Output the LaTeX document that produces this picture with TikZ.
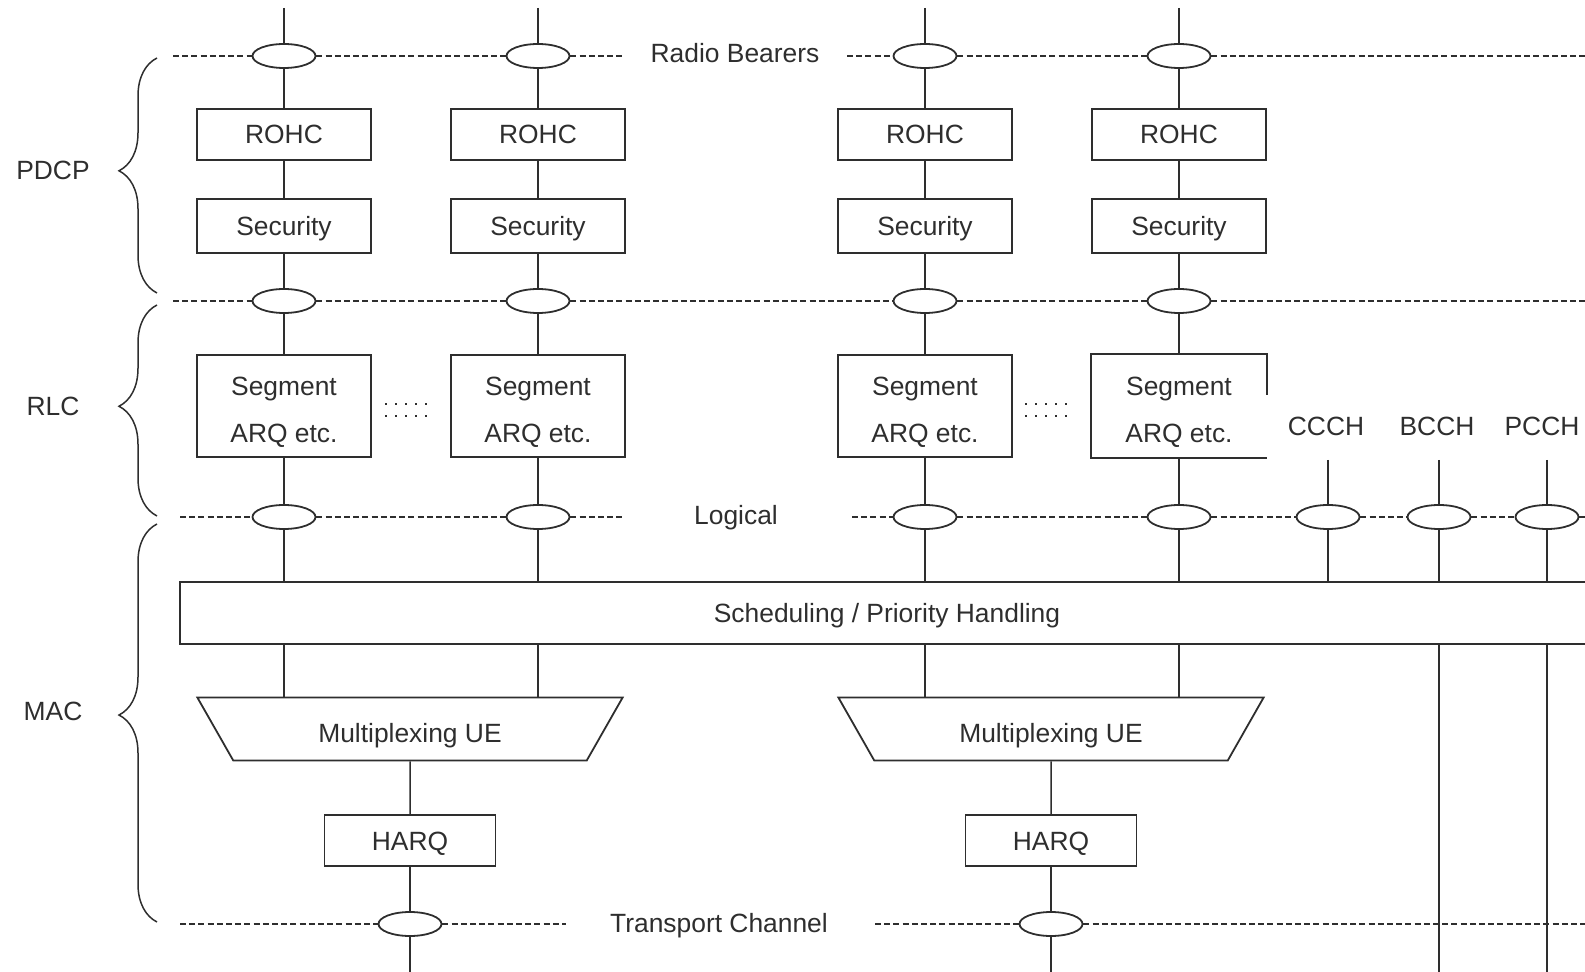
\documentclass[tikz,border=0pt]{standalone}
\usepackage{fontspec}
\setmainfont{Liberation Sans}
\usetikzlibrary{shapes.geometric,decorations.pathreplacing}
\definecolor{ln}{HTML}{2E2E2E}
\newcommand\fs{\fontsize{13.2pt}{16pt}\selectfont}
\tikzset{
 box/.style={draw=ln, line width=0.9pt, minimum width=87pt, minimum height=25.5pt, inner sep=0pt, font=\fs, text=ln, text height=9.5pt, text depth=0pt},
 ell/.style={draw=ln, ellipse, line width=0.9pt, minimum width=31.5pt, minimum height=12pt, inner sep=0pt},
 conn/.style={draw=ln, line width=0.75pt},
 dsh/.style={draw=ln, line width=0.8pt, dash pattern=on 3pt off 1.6pt},
 lbl/.style={font=\fs, text=ln, inner sep=0pt, text height=9.5pt, text depth=0pt},
 blbl/.style={font=\fs, text=ln, inner sep=0pt, anchor=base},
 brc/.style={draw=ln, line width=0.75pt, decorate, decoration={brace, amplitude=19pt, aspect=0.52}},
 dotl/.style={draw=ln, line width=1.3pt, dash pattern=on 1.2pt off 3.8pt},
 mux/.style={draw=ln, line width=0.9pt, trapezium, trapezium stretches=true, shape border rotate=180,
   trapezium left angle=55.4, trapezium right angle=55.4, minimum width=213pt, minimum height=31.5pt,
   inner sep=0pt, font=\fs, text=ln, text height=13.5pt, text depth=0pt},
}
\begin{document}
\begin{tikzpicture}[x=0.5pt,y=-0.5pt]
\useasboundingbox (0,0) rectangle (1585,972);
\clip (0,0) rectangle (1585,972);

% layer labels and braces
\node[lbl] (pdcp) at (53,170) {PDCP};
\node[lbl] (rlc) at (53,406) {RLC};
\node[lbl] (mac) at (53,711) {MAC};
\draw[brc] (157,293) -- (157,58);
\draw[brc] (157,516) -- (157,305);
\draw[brc] (157,922) -- (157,524);

% channel labels
\node[lbl] (rbtxt) at (735,53) {Radio Bearers};
\node[lbl] (lgtxt) at (736,515) {Logical};
\node[lbl] (trtxt) at (719,923) {Transport Channel};
\node[lbl] (ccch) at (1326,426) {CCCH};
\node[lbl] (bcch) at (1437,426) {BCCH};
\node[lbl] (pcch) at (1542,426) {PCCH};

% columns
\foreach \i/\x in {1/284,2/538,3/925,4/1179}{
  \coordinate (top\i) at (\x,8);
  \node[ell] (rb\i) at (\x,56) {};
  \node[box] (rohc\i) at (\x,134.5) {ROHC};
  \node[box, minimum height=27pt] (sec\i) at (\x,226) {Security};
  \node[ell] (r\i) at (\x,301) {};
  \node[ell] (l\i) at (\x,517) {};
}
\foreach \i/\x in {1/284,2/538,3/925}{
  \node[box, minimum height=51pt] (seg\i) at (\x,406) {};
}
\node[box, minimum height=51pt, draw=none] (seg4) at (1179,406) {};
\draw[ln, line width=0.9pt] (seg4.south east) -- (seg4.south west) -- (seg4.north west) -- (seg4.north east) -- ++(0,41);
\foreach \i in {1,2,3,4}{
  \node[blbl] (segt\i) at ([yshift=5.25pt]seg\i.center) {Segment};
  \node[blbl] (arqt\i) at ([yshift=-18.25pt]seg\i.center) {ARQ etc.};
}

% logical channels without RLC
\node[ell] (lC) at (1328,517) {};
\node[ell] (lB) at (1439,517) {};
\node[ell] (lP) at (1547,517) {};
\coordinate (cC) at (1328,460);
\coordinate (cB) at (1439,460);
\coordinate (cP) at (1547,460);

% MAC
\node[box, minimum width=707pt, minimum height=31pt] (sched) at (887,613) {Scheduling / Priority Handling};
\node[mux] (mux1) at (410,729) {Multiplexing UE};
\node[mux] (mux2) at (1051,729) {Multiplexing UE};
\node[box, minimum width=85.5pt] (harq1) at (410,840.5) {HARQ};
\node[box, minimum width=85.5pt] (harq2) at (1051,840.5) {HARQ};
\node[ell] (t1) at (410,924) {};
\node[ell] (t2) at (1051,924) {};
\coordinate (bot1) at (410,972);
\coordinate (bot2) at (1051,972);
\coordinate (botB) at (1439,972);
\coordinate (botP) at (1547,972);

% dashed service access lines
\coordinate (rbA) at (173,56); \coordinate (rbB) at (624,56);
\coordinate (rbC) at (847,56); \coordinate (rbD) at (1590,56);
\draw[dsh] (rbA) -- (rb1); \draw[dsh] (rb1) -- (rb2); \draw[dsh] (rb2) -- (rbB);
\draw[dsh] (rbC) -- (rb3); \draw[dsh] (rb3) -- (rb4); \draw[dsh] (rb4) -- (rbD);

\coordinate (rA) at (173,301); \coordinate (rD) at (1590,301);
\draw[dsh] (rA) -- (r1); \draw[dsh] (r1) -- (r2); \draw[dsh] (r2) -- (r3);
\draw[dsh] (r3) -- (r4); \draw[dsh] (r4) -- (rD);

\coordinate (lA) at (180,517); \coordinate (lBx) at (624,517);
\coordinate (lCx) at (852,517); \coordinate (lD) at (1590,517);
\draw[dsh] (lA) -- (l1); \draw[dsh] (l1) -- (l2); \draw[dsh] (l2) -- (lBx);
\draw[dsh] (lCx) -- (l3); \draw[dsh] (l3) -- (l4); \draw[dsh] (l4) -- (lC);
\draw[dsh] (lC) -- (lB); \draw[dsh] (lB) -- (lP); \draw[dsh] (lP) -- (lD);

\coordinate (tA) at (180,924); \coordinate (tB) at (566,924);
\coordinate (tC) at (875,924); \coordinate (tD) at (1590,924);
\draw[dsh] (tA) -- (t1); \draw[dsh] (t1) -- (tB);
\draw[dsh] (tC) -- (t2); \draw[dsh] (t2) -- (tD);

% vertical connectors
\foreach \i in {1,2,3,4}{
  \draw[conn] (top\i) -- (rb\i);
  \draw[conn] (rb\i) -- (rohc\i);
  \draw[conn] (rohc\i) -- (sec\i);
  \draw[conn] (sec\i) -- (r\i);
  \draw[conn] (r\i) -- (seg\i);
  \draw[conn] (seg\i) -- (l\i);
  \draw[conn] (l\i) -- (l\i |- sched.north);
}
\draw[conn] (sched.south -| l1) -- (mux1.north -| l1);
\draw[conn] (sched.south -| l2) -- (mux1.north -| l2);
\draw[conn] (sched.south -| l3) -- (mux2.north -| l3);
\draw[conn] (sched.south -| l4) -- (mux2.north -| l4);
\draw[conn] (mux1) -- (harq1);
\draw[conn] (mux2) -- (harq2);
\draw[conn] (harq1) -- (t1);
\draw[conn] (harq2) -- (t2);
\draw[conn] (t1) -- (bot1);
\draw[conn] (t2) -- (bot2);

\draw[conn] (cC) -- (lC); \draw[conn] (lC) -- (lC |- sched.north);
\draw[conn] (cB) -- (lB); \draw[conn] (lB) -- (lB |- sched.north);
\draw[conn] (cP) -- (lP); \draw[conn] (lP) -- (lP |- sched.north);
\draw[conn] (sched.south -| lB) -- (botB);
\draw[conn] (sched.south -| lP) -- (botP);

% dotted ellipsis between RLC entities
\draw[dotl] (385,404) -- (430,404);
\draw[dotl] (385,416) -- (430,416);
\draw[dotl] (1025,404) -- (1070,404);
\draw[dotl] (1025,416) -- (1070,416);
\end{tikzpicture}
\end{document}
